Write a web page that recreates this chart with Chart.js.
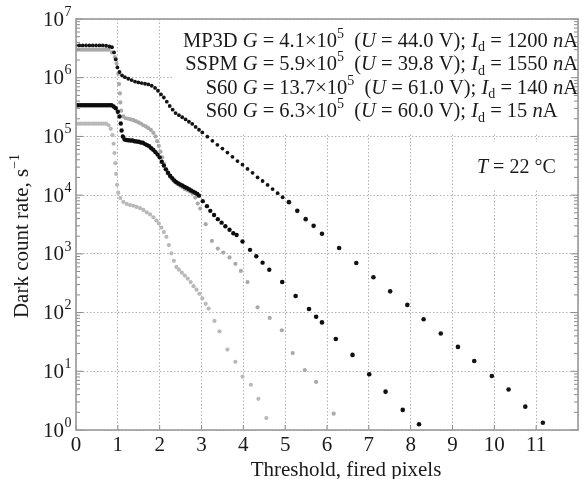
<!DOCTYPE html>
<html>
<head>
<meta charset="utf-8">
<script src="https://cdn.jsdelivr.net/npm/chart.js@4.4.1/dist/chart.umd.min.js"></script>
<style>
  html, body { margin: 0; padding: 0; background: #fff; }
</style>
</head>
<body>
<canvas id="chart-dark" width="582" height="479"></canvas>
<script>
'use strict'

// --------------------------------------------
// DONNEES
// --------------------------------------------
const SERIES_NAMES = ['MP3D', 'SSPM', 'S60', 'S60'] ;
const GAINS        = ['4.1', '5.9', '13.7', '6.3'] ;
const BIAS_V       = ['44.0', '39.8', '61.0', '60.0'] ;
const DARK_CURRENT = ['1200', '1550', '140', '15'] ;

const X_TICKS   = [0, 1, 2, 3, 4, 5, 6, 7, 8, 9, 10, 11] ;
const Y_DECADES = [1, 10, 100, 1e3, 1e4, 1e5, 1e6, 1e7] ;

// MP3D (noir, haut)
const MP3D_X = [0, 0.08, 0.16, 0.24, 0.32, 0.40, 0.48, 0.56, 0.64, 0.72, 0.80, 0.86, 0.91, 0.95, 0.99,
    1.04, 1.10, 1.17, 1.25, 1.33, 1.41, 1.49, 1.57, 1.65, 1.73, 1.81, 1.89, 1.96,
    2.03, 2.10, 2.17, 2.24, 2.31, 2.38, 2.46, 2.54, 2.62, 2.70, 2.78, 2.86, 2.94,
    3.02, 3.14, 3.26, 3.38, 3.50, 3.62, 3.74, 3.86, 3.98,
    4.10, 4.22, 4.34, 4.46, 4.58, 4.70, 4.82, 4.94,
    5.09, 5.29, 5.49, 5.68, 5.88,
    6.29, 6.70, 7.11, 7.51, 7.92, 8.31, 8.72, 9.13, 9.52, 9.94, 10.34, 10.74, 11.16] ;
const MP3D_Y = [3.55e6, 3.55e6, 3.55e6, 3.55e6, 3.55e6, 3.55e6, 3.55e6, 3.55e6, 3.55e6, 3.5e6, 3.4e6, 3.3e6, 2.7e6, 2.05e6, 1.5e6,
    1.25e6, 1.1e6, 1.02e6, 9.6e5, 9.1e5, 8.6e5, 8.3e5, 8.1e5, 7.9e5, 7.7e5, 7.3e5, 6.7e5, 6.0e5,
    5.2e5, 4.6e5, 3.9e5, 3.3e5, 2.85e5, 2.5e5, 2.3e5, 2.12e5, 1.95e5, 1.78e5, 1.63e5, 1.45e5, 1.3e5,
    1.17e5, 9.9e4, 8.4e4, 7.2e4, 6.2e4, 5.3e4, 4.5e4, 3.8e4, 3.3e4,
    2.8e4, 2.4e4, 2.0e4, 1.74e4, 1.49e4, 1.27e4, 1.08e4, 9.2e3,
    7.6e3, 5.4e3, 3.9e3, 3.0e3, 2.2e3,
    1260, 700, 400, 230, 135, 77, 44, 26, 15, 8.3, 4.9, 2.5, 1.33] ;

// S60 G = 13.7e5 (noir, trait epais)
const S60A_X = [0, 0.05, 0.10, 0.15, 0.20, 0.25, 0.30, 0.35, 0.40, 0.45, 0.50, 0.55, 0.60, 0.65, 0.70, 0.75, 0.80, 0.85,
    0.90, 0.95, 1.00, 1.04, 1.07, 1.09, 1.12, 1.16,
    1.20, 1.25, 1.30, 1.35, 1.40, 1.45, 1.50, 1.55, 1.60, 1.65, 1.70, 1.75, 1.80, 1.85, 1.90, 1.95,
    2.00, 2.05, 2.10, 2.15, 2.20, 2.25, 2.30, 2.35, 2.40, 2.45, 2.50, 2.55, 2.60, 2.65, 2.70, 2.75, 2.80, 2.85, 2.90,
    2.94, 3.03, 3.13, 3.21, 3.30, 3.39, 3.48, 3.57, 3.67, 3.76, 3.84,
    3.98, 4.16, 4.31, 4.46, 4.62, 4.93, 5.25, 5.57, 5.74, 5.88,
    6.21, 6.61, 7.01, 7.40, 7.81, 8.20] ;
const S60A_Y = [3.39e5, 3.39e5, 3.39e5, 3.39e5, 3.39e5, 3.39e5, 3.39e5, 3.39e5, 3.39e5, 3.39e5, 3.39e5, 3.39e5, 3.39e5, 3.39e5, 3.39e5, 3.39e5, 3.39e5, 3.39e5,
    3.24e5, 3.02e5, 2.63e5, 2.19e5, 1.66e5, 1.26e5, 1.0e5, 8.9e4,
    8.7e4, 8.6e4, 8.5e4, 8.5e4, 8.3e4, 8.2e4, 8.1e4, 7.9e4, 7.8e4, 7.4e4, 7.1e4, 6.8e4, 6.3e4, 5.9e4, 5.4e4, 4.9e4,
    4.4e4, 3.7e4, 3.2e4, 2.75e4, 2.4e4, 2.14e4, 1.95e4, 1.78e4, 1.66e4, 1.58e4, 1.51e4, 1.45e4, 1.38e4, 1.32e4, 1.26e4, 1.2e4, 1.15e4, 1.1e4, 1.05e4,
    9.8e3, 7.9e3, 6.5e3, 5.4e3, 4.6e3, 3.9e3, 3.4e3, 2.95e3, 2.57e3, 2.25e3, 2.09e3,
    1620, 1170, 912, 708, 537, 331, 191, 115, 85, 68,
    35.5, 19, 8.9, 4.5, 2.2, 1.25] ;

// SSPM (gris, haut)
const SSPM_X = [0, 0.06, 0.12, 0.18, 0.24, 0.30, 0.36, 0.42, 0.48, 0.54, 0.60, 0.66, 0.72, 0.78,
    0.86, 0.93, 0.97, 1.01, 1.03, 1.05, 1.06, 1.08,
    1.13, 1.19, 1.25, 1.31, 1.37, 1.43, 1.49, 1.55, 1.61, 1.67, 1.73, 1.79, 1.85,
    1.90, 1.94, 1.98, 2.02, 2.06, 2.10, 2.14,
    2.19, 2.25, 2.31, 2.37, 2.43, 2.49, 2.55, 2.61, 2.67, 2.73, 2.79, 2.85, 2.91, 2.97,
    3.10, 3.25, 3.39, 3.52, 3.67, 3.81, 3.94, 4.10,
    4.34, 4.63, 4.92, 5.18, 5.47, 5.74, 6.16] ;
const SSPM_Y = [3.0e6, 3.0e6, 3.0e6, 3.0e6, 3.0e6, 3.0e6, 3.0e6, 3.0e6, 3.0e6, 3.0e6, 3.0e6, 3.0e6, 3.0e6, 3.0e6,
    2.7e6, 2.24e6, 1.74e6, 1.17e6, 7.8e5, 5.4e5, 3.8e5, 2.75e5,
    2.19e5, 2.04e5, 2.0e5, 1.95e5, 1.9e5, 1.82e5, 1.74e5, 1.66e5, 1.55e5, 1.48e5, 1.38e5, 1.29e5, 1.15e5,
    1.0e5, 8.3e4, 6.9e4, 5.5e4, 4.4e4, 3.4e4, 2.8e4,
    2.34e4, 2.04e4, 1.82e4, 1.66e4, 1.55e4, 1.45e4, 1.35e4, 1.26e4, 1.2e4, 1.15e4, 1.07e4, 9.1e3, 7.2e3, 5.9e3,
    3.2e3, 1.66e3, 1.23e3, 1.05e3, 870, 676, 513, 331,
    123, 81, 50, 20.4, 10.5, 6.6, 1.9] ;

// S60 G = 6.3e5 (gris clair, bas)
const S60B_X = [0, 0.06, 0.12, 0.18, 0.24, 0.30, 0.36, 0.42, 0.48, 0.54, 0.60, 0.66, 0.72,
    0.78, 0.83, 0.87, 0.90, 0.92, 0.94, 0.96, 0.98, 1.01, 1.06,
    1.13, 1.21, 1.29, 1.37, 1.45, 1.53, 1.61, 1.69, 1.77, 1.85, 1.92, 1.98,
    2.04, 2.10, 2.16, 2.22, 2.28, 2.34, 2.40, 2.46, 2.53, 2.60, 2.67, 2.74, 2.81, 2.88, 2.95, 3.02,
    3.10, 3.17, 3.31, 3.43, 3.62, 3.81, 3.98, 4.18, 4.36, 4.55] ;
const S60B_Y = [1.65e5, 1.65e5, 1.65e5, 1.65e5, 1.65e5, 1.65e5, 1.65e5, 1.65e5, 1.65e5, 1.65e5, 1.65e5, 1.65e5, 1.65e5,
    1.55e5, 1.35e5, 1.05e5, 7.5e4, 5.2e4, 3.5e4, 2.3e4, 1.5e4, 1.1e4, 8.9e3,
    7.7e3, 7.1e3, 6.8e3, 6.6e3, 6.3e3, 6.0e3, 5.6e3, 5.1e3, 4.7e3, 4.2e3, 3.7e3, 3.3e3,
    2.8e3, 2.35e3, 1.95e3, 1.41e3, 1.02e3, 760, 600, 537, 479, 427, 380, 331, 282, 245, 209, 174,
    141, 117, 72, 48, 23.4, 14.5, 8.1, 5.9, 3.4, 1.6] ;


// --------------------------------------------
// TEXTE AVEC ITALIQUE / EXPOSANT / INDICE
// --------------------------------------------
const SERIF = '"Liberation Serif", "Times New Roman", serif' ;

function fontFor(style, size) {
    const small = style === 'sup' || style === 'sub' ;
    const sz = small ? Math.round(size * 0.68) : size ;
    return (style === 'i' ? 'italic ' : '') + sz + 'px ' + SERIF ;
}

function richWidth(ctx, parts, size) {
    let w = 0 ;
    parts.forEach(([t, s]) => { ctx.font = fontFor(s, size) ; w += ctx.measureText(t).width ; }) ;
    return w ;
}

function drawRich(ctx, parts, x, y, size) {
    ctx.textAlign = 'left' ;
    ctx.textBaseline = 'alphabetic' ;
    parts.forEach(([t, s]) => {
        ctx.font = fontFor(s, size) ;
        const dy = s === 'sup' ? -size * 0.42 : (s === 'sub' ? size * 0.24 : 0) ;
        ctx.fillText(t, x, y + dy) ;
        x += ctx.measureText(t).width ;
    }) ;
}

function legendParts(i) {
    return [
        [SERIES_NAMES[i] + ' ', ''], ['G', 'i'], [' = ' + GAINS[i] + '×10', ''], ['5', 'sup'],
        ['  (', ''], ['U', 'i'], [' = ' + BIAS_V[i] + ' V); ', ''],
        ['I', 'i'], ['d', 'sub'], [' = ' + DARK_CURRENT[i] + ' ', ''], ['n', 'i'], ['A', '']
    ] ;
}


// --------------------------------------------
// PLUGIN : cadre, graduations, textes
// --------------------------------------------
const frameAndText = {
    id: 'frameAndText',
    beforeDatasetsDraw(chart) {
        const { ctx, chartArea: a } = chart ;
        ctx.save() ;
        ctx.fillStyle = '#fff' ;
        ctx.fillRect(172, a.top + 1, a.right - 173, 114) ;
        ctx.fillRect(468, 142, 108, 47) ;
        ctx.restore() ;
    },
    afterDraw(chart) {
        const { ctx, chartArea: a } = chart ;
        const xs = chart.scales.x, ys = chart.scales.y ;
        ctx.save() ;

        // graduations mineures / majeures
        ctx.strokeStyle = '#8a8a8a' ;
        ctx.lineWidth = 1 ;
        ctx.beginPath() ;
        Y_DECADES.forEach((d, k) => {
            const py = ys.getPixelForValue(d) ;
            ctx.moveTo(a.left, py) ; ctx.lineTo(a.left + 7, py) ;
            ctx.moveTo(a.right, py) ; ctx.lineTo(a.right - 7, py) ;
            if (k === Y_DECADES.length - 1) return ;
            for (let m = 2 ; m <= 9 ; m++) {
                const pm = ys.getPixelForValue(d * m) ;
                ctx.moveTo(a.left, pm) ; ctx.lineTo(a.left + 4, pm) ;
                ctx.moveTo(a.right, pm) ; ctx.lineTo(a.right - 4, pm) ;
            }
        }) ;
        X_TICKS.forEach(v => {
            const px = xs.getPixelForValue(v) ;
            ctx.moveTo(px, a.bottom) ; ctx.lineTo(px, a.bottom - 5) ;
        }) ;
        ctx.stroke() ;

        // cadre
        ctx.strokeStyle = '#9a9a9a' ;
        ctx.lineWidth = 1.6 ;
        ctx.strokeRect(a.left, a.top, a.right - a.left, a.bottom - a.top) ;

        ctx.fillStyle = '#1a1a1a' ;

        // etiquettes de l'axe Y : 10^k
        Y_DECADES.forEach((d, k) => {
            const py = ys.getPixelForValue(d) ;
            ctx.font = '21px ' + SERIF ;
            ctx.textAlign = 'right' ;
            ctx.textBaseline = 'middle' ;
            ctx.fillText('10', 64, py + 1) ;
            ctx.font = '14px ' + SERIF ;
            ctx.textAlign = 'left' ;
            ctx.fillText(String(k), 64.5, py - 7) ;
        }) ;

        // titre X
        ctx.font = '21px ' + SERIF ;
        ctx.textAlign = 'center' ;
        ctx.textBaseline = 'alphabetic' ;
        ctx.fillText('Threshold, fired pixels', 346, 476) ;

        // titre Y (vertical)
        const yParts = [['Dark count rate, s', ''], ['−1', 'sup']] ;
        const yw = richWidth(ctx, yParts, 21) ;
        ctx.save() ;
        ctx.translate(28, 236) ;
        ctx.rotate(-Math.PI / 2) ;
        drawRich(ctx, yParts, -yw / 2, 0, 21) ;
        ctx.restore() ;

        // legende
        const size = 20.5 ;
        let startX = 0 ;
        for (let i = 0 ; i < 4 ; i++) {
            const parts = legendParts(i) ;
            const w = richWidth(ctx, parts, size) ;
            const baseline = 46.5 + i * 23.5 ;
            if (i < 3) startX = 578 - w ;
            drawRich(ctx, parts, startX, baseline, size) ;
        }

        // temperature
        drawRich(ctx, [['T', 'i'], [' = 22 °C', '']], 477, 173, 20) ;

        ctx.restore() ;
    }
} ;


// --------------------------------------------
// GRAPHIQUE SCATTER LOG
// --------------------------------------------
function toPoints(xs, ys) {
    return xs.map((x, i) => ({ x, y: ys[i] })) ;
}

new Chart(document.getElementById('chart-dark'), {
    type: 'scatter',
    data: {
        datasets: [
            {
                label: 'MP3D',
                data: toPoints(MP3D_X, MP3D_Y),
                backgroundColor: '#141414',
                borderWidth: 0,
                pointRadius: c => (c.raw && c.raw.x > 5 ? 2.3 : 1.9),
            },
            {
                label: 'S60 13.7',
                data: toPoints(S60A_X, S60A_Y),
                backgroundColor: '#0d0d0d',
                borderWidth: 0,
                pointRadius: c => (c.raw && c.raw.x > 4.8 ? 2.3 : 2.2),
            },
            {
                label: 'SSPM',
                data: toPoints(SSPM_X, SSPM_Y),
                backgroundColor: '#a9a9a9',
                borderWidth: 0,
                pointRadius: 2.1,
            },
            {
                label: 'S60 6.3',
                data: toPoints(S60B_X, S60B_Y),
                backgroundColor: '#b9b9b9',
                borderWidth: 0,
                pointRadius: 2.1,
            },
        ]
    },
    options: {
        responsive: false,
        animation: false,
        layout: { padding: { top: 19, right: 1, left: 0, bottom: 0 } },
        plugins: {
            legend: { display: false },
            tooltip: { enabled: false },
        },
        scales: {
            x: {
                type: 'linear',
                min: 0,
                max: 12,
                afterFit: s => { s.height = 49 ; },
                ticks: {
                    stepSize: 1,
                    padding: 3,
                    autoSkip: false,
                    maxRotation: 0,
                    color: '#1a1a1a',
                    font: { family: 'Liberation Serif', size: 21 },
                    callback: v => (X_TICKS.includes(v) ? String(v) : ''),
                },
                grid: { color: '#b3b3b3', lineWidth: 1, drawTicks: false },
                border: { display: false, dash: [1.5, 2] },
            },
            y: {
                type: 'logarithmic',
                min: 1,
                max: 1e7,
                afterFit: s => { s.width = 76 ; },
                afterBuildTicks: s => { s.ticks = Y_DECADES.map(v => ({ value: v })) ; },
                ticks: { display: false },
                grid: { color: '#b3b3b3', lineWidth: 1, drawTicks: false },
                border: { display: false, dash: [1.5, 2] },
            }
        }
    },
    plugins: [frameAndText]
}) ;
</script>
</body>
</html>
